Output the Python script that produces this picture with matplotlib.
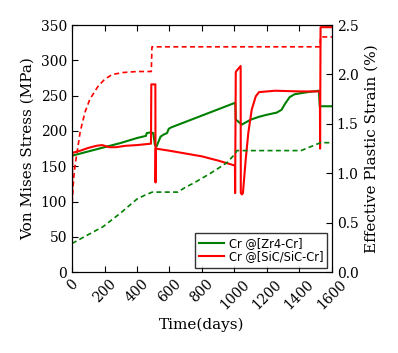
import matplotlib
matplotlib.use("Agg")
import matplotlib.pyplot as plt
import numpy as np

# Cr @[Zr4-Cr] : von Mises stress (MPa)
zr_days = [0, 100, 200, 300, 400, 455, 460, 485, 500, 510, 520, 545, 565, 585, 595, 610,
           1005, 1008, 1020, 1045, 1100, 1150, 1200, 1260, 1290, 1310, 1340, 1370, 1450,
           1520, 1525, 1600]
zr_stress = [165, 171, 177, 183, 190, 193, 197, 198, 197, 180, 178, 192, 195, 197, 203, 205,
             240, 216, 214, 209, 216, 220, 223, 226, 230, 238, 248, 252, 255,
             257, 235, 235]

# Cr @[SiC/SiC-Cr] : von Mises stress (MPa)
sic_days = [0, 2, 50, 100, 150, 185, 230, 270, 330, 400, 486, 488, 513, 514, 516, 600, 700,
            800, 900, 1003, 1004, 1008, 1012, 1038, 1039, 1046, 1052, 1069, 1085, 1106, 1131,
            1151, 1250, 1400, 1526, 1527, 1530, 1600]
sic_stress = [100, 169, 172, 176, 179, 180, 177, 177, 179, 180, 182, 266, 266, 127, 175, 172, 168,
              164, 158, 151, 112, 283, 285, 292, 112, 110, 112, 159, 197, 230, 249,
              255, 257, 256, 256, 175, 347, 347]

# effective plastic strain (%)
zr_strain_days = [0, 100, 191, 300, 400, 450, 494, 650, 700, 747, 800, 852, 900, 955, 1000,
                  1015, 1410, 1470, 1530, 1600]
zr_strain = [0.29, 0.38, 0.46, 0.60, 0.74, 0.78, 0.81, 0.81, 0.86, 0.90, 0.95, 1.00, 1.05, 1.11, 1.19,
             1.23, 1.23, 1.27, 1.31, 1.31]

sic_strain_days = [0, 10, 20, 31, 50, 80, 110, 160, 200, 247, 315, 400, 488, 492, 1527, 1530, 1600]
sic_strain = [0.70, 0.95, 1.10, 1.21, 1.42, 1.62, 1.75, 1.88, 1.95, 2.00, 2.02, 2.03, 2.03, 2.28,
              2.28, 2.38, 2.38]

plt.rcParams['font.family'] = 'DejaVu Serif'

fig = plt.figure(figsize=(3.98, 3.53), dpi=100)
ax = fig.add_axes([0.181, 0.229, 0.653, 0.700])
ax2 = ax.twinx()

ax.plot(zr_days, zr_stress, color='g', lw=1.5, label='Cr @[Zr4-Cr]')
ax.plot(sic_days, sic_stress, color='r', lw=1.5, label='Cr @[SiC/SiC-Cr]')
ax2.plot(zr_strain_days, zr_strain, color='g', lw=1.2, ls='--', dashes=(3, 2))
ax2.plot(sic_strain_days, sic_strain, color='r', lw=1.2, ls='--', dashes=(3, 2))

ax.set_xlim(0, 1600)
ax.set_ylim(0, 350)
ax2.set_ylim(0, 2.5)
ax.set_xticks(np.arange(0, 1601, 200))
ax.set_yticks(np.arange(0, 351, 50))
ax2.set_yticks(np.arange(0, 2.51, 0.5))
ax2.set_yticklabels([f"{v:.1f}" for v in np.arange(0, 2.51, 0.5)])

ax.tick_params(axis='both', direction='in', labelsize=10, top=True, length=4)
ax2.tick_params(axis='y', direction='in', labelsize=10, length=4)
for lbl in ax.get_xticklabels():
    lbl.set_rotation(45)
    lbl.set_ha('center')

ax.set_xlabel("Time(days)", fontsize=11)
ax.set_ylabel("Von Mises Stress (MPa)", fontsize=11)
ax2.set_ylabel("Effective Plastic Strain (%)", fontsize=11)

leg = ax.legend(loc='lower right', prop={'family': 'DejaVu Sans', 'size': 8.3},
                fancybox=False, edgecolor='black', handlelength=2.2,
                borderpad=0.35, labelspacing=0.05, handletextpad=0.4,
                borderaxespad=0.4)
leg.get_frame().set_linewidth(1.0)

fig.savefig("out.png", dpi=100)
